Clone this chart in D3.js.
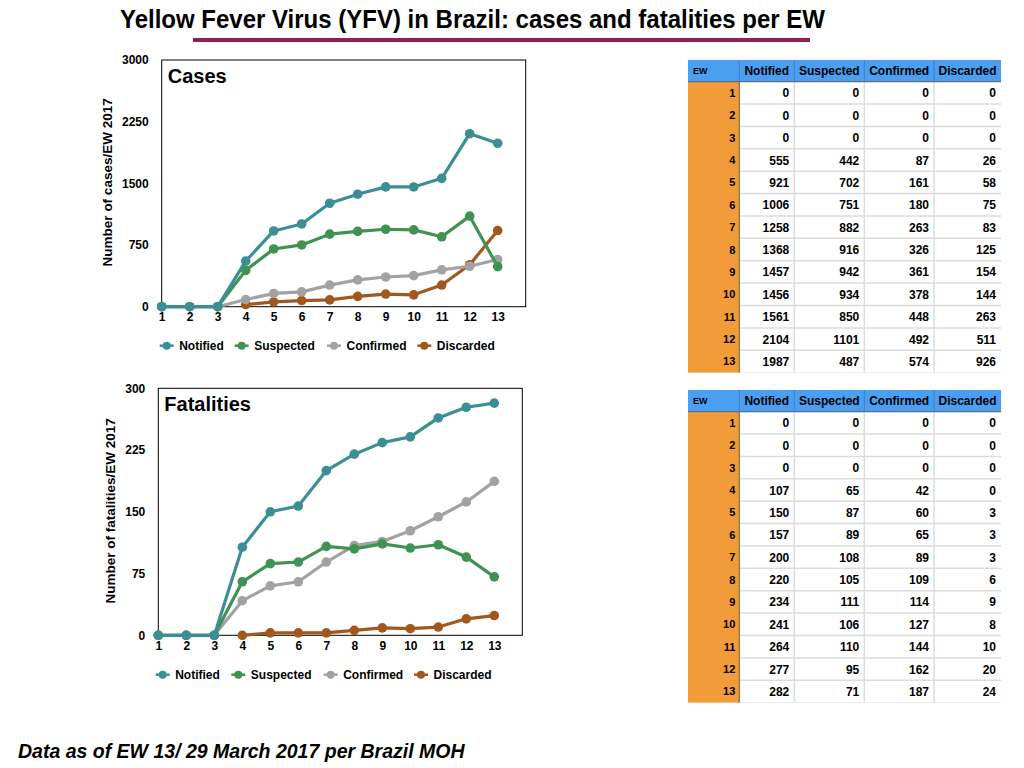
<!DOCTYPE html>
<html>
<head>
<meta charset="utf-8">
<script src="https://cdn.jsdelivr.net/npm/d3@7"></script>
<style>
  body { margin: 0; background: #fff; }
  svg { display: block; font-family: "Liberation Sans", Arial, sans-serif; }
  .tick text { font-weight: bold; font-size: 12px; fill: #000; }
</style>
</head>
<body>
<svg id="screen" width="1024" height="768"></svg>
<script>
'use strict';

const weeks = [1, 2, 3, 4, 5, 6, 7, 8, 9, 10, 11, 12, 13];
const seriesNames = ['Notified', 'Suspected', 'Confirmed', 'Discarded'];
const seriesColors = ['#3b8f94', '#3f9251', '#a2a2a2', '#a0581f'];

const casesNotified = [0, 0, 0, 555, 921, 1006, 1258, 1368, 1457, 1456, 1561, 2104, 1987];
const casesSuspected = [0, 0, 0, 442, 702, 751, 882, 916, 942, 934, 850, 1101, 487];
const casesConfirmed = [0, 0, 0, 87, 161, 180, 263, 326, 361, 378, 448, 492, 574];
const casesDiscarded = [0, 0, 0, 26, 58, 75, 83, 125, 154, 144, 263, 511, 926];

const deathsNotified = [0, 0, 0, 107, 150, 157, 200, 220, 234, 241, 264, 277, 282];
const deathsSuspected = [0, 0, 0, 65, 87, 89, 108, 105, 111, 106, 110, 95, 71];
const deathsConfirmed = [0, 0, 0, 42, 60, 65, 89, 109, 114, 127, 144, 162, 187];
const deathsDiscarded = [0, 0, 0, 0, 3, 3, 3, 6, 9, 8, 10, 20, 24];

// discarded counts are only plotted from EW 4 on
const firstWeek = [1, 1, 1, 4];

const casesTicks = [0, 750, 1500, 2250, 3000];
const deathsTicks = [0, 75, 150, 225, 300];

const svg = d3.select('#screen');

// title
svg.append('text')
  .attr('x', 120).attr('y', 28)
  .attr('textLength', 705).attr('lengthAdjust', 'spacingAndGlyphs')
  .style('font-weight', 'bold').style('font-size', '25px')
  .text('Yellow Fever Virus (YFV) in Brazil: cases and fatalities per EW');
svg.append('rect')
  .attr('x', 193).attr('y', 38).attr('width', 617).attr('height', 4)
  .attr('fill', '#8b2452');

function drawChart(opt) {
  const x = d3.scaleLinear().domain([1, 14]).range([opt.left, opt.right]),
        y = d3.scaleLinear().domain([0, opt.max]).range([opt.bottom, opt.top]);
  const g = svg.append('g');

  g.append('rect')
    .attr('x', opt.left).attr('y', opt.top)
    .attr('width', opt.right - opt.left).attr('height', opt.bottom - opt.top)
    .attr('fill', 'none').attr('stroke', '#000').attr('stroke-width', 1);

  g.append('g')
    .attr('transform', `translate(${opt.left},0)`)
    .call(d3.axisLeft(y).tickValues(opt.ticks).tickFormat(d3.format('d')).tickSize(0).tickPadding(13))
    .call(a => a.select('.domain').remove());

  g.append('g')
    .attr('transform', `translate(0,${opt.bottom})`)
    .call(d3.axisBottom(x).tickValues(weeks).tickFormat(d3.format('d')).tickSize(0).tickPadding(6))
    .call(a => a.select('.domain').remove());

  g.append('text')
    .attr('transform', `translate(${opt.labelX},${(opt.top + opt.bottom) / 2 - 1}) rotate(-90)`)
    .attr('text-anchor', 'middle')
    .style('font-weight', 'bold').style('font-size', '13.5px')
    .text(opt.label);

  g.append('text')
    .attr('x', opt.left + 6).attr('y', opt.top + 23)
    .style('font-weight', 'bold').style('font-size', '20px')
    .text(opt.title);

  const line = d3.line().x(d => x(d.w)).y(d => y(d.v));
  // draw so that Notified ends up on top
  for (let s = opt.series.length - 1; s >= 0; --s) {
    const pts = weeks.map((w, i) => ({w: w, v: opt.series[s][i]}))
      .filter(d => d.w >= firstWeek[s]);
    const sg = g.append('g');
    sg.append('path')
      .datum(pts)
      .attr('d', line)
      .attr('fill', 'none')
      .attr('stroke', seriesColors[s])
      .attr('stroke-width', 3.2)
      .attr('stroke-linejoin', 'round');
    sg.selectAll('circle')
      .data(pts)
      .join('circle')
      .attr('cx', d => x(d.w))
      .attr('cy', d => y(d.v))
      .attr('r', 4.8)
      .attr('fill', seriesColors[s]);
  }

  const lg = g.append('g').attr('transform', `translate(0,${opt.legendY})`);
  seriesNames.forEach((name, i) => {
    const mx = opt.legendX[i];
    lg.append('line')
      .attr('x1', mx - 7).attr('x2', mx + 7)
      .attr('stroke', seriesColors[i]).attr('stroke-width', 2.5);
    lg.append('circle').attr('cx', mx).attr('r', 4).attr('fill', seriesColors[i]);
    lg.append('text')
      .attr('x', mx + 12.5).attr('y', 4.5)
      .style('font-weight', 'bold').style('font-size', '12px')
      .text(name);
  });
}

drawChart({
  left: 161.7, right: 525.7, top: 60, bottom: 306.7,
  max: 3000, ticks: casesTicks,
  series: [casesNotified, casesSuspected, casesConfirmed, casesDiscarded],
  label: 'Number of cases/EW 2017', labelX: 112,
  title: 'Cases',
  legendY: 345.7, legendX: [166.7, 241.7, 334, 424.3]
});

drawChart({
  left: 158.3, right: 522.3, top: 388.3, bottom: 635.3,
  max: 300, ticks: deathsTicks,
  series: [deathsNotified, deathsSuspected, deathsConfirmed, deathsDiscarded],
  label: 'Number of fatalities/EW 2017', labelX: 115,
  title: 'Fatalities',
  legendY: 674.7, legendX: [162.7, 238.3, 330.7, 421]
});

// tables
const colEdges = [688, 739.3, 794.3, 864.3, 934, 1001];

function drawTable(top, series) {
  const headerH = 21.7, rowH = 22.38;
  const rows = d3.scaleBand().domain(weeks).range([top + headerH, top + headerH + rowH * weeks.length]);
  const g = svg.append('g');
  const right = colEdges[colEdges.length - 1];

  g.append('rect')
    .attr('x', colEdges[0]).attr('y', top)
    .attr('width', right - colEdges[0]).attr('height', headerH)
    .attr('fill', '#4b9ff2');
  g.append('rect')
    .attr('x', colEdges[0]).attr('y', top + headerH)
    .attr('width', colEdges[1] - colEdges[0]).attr('height', rowH * weeks.length)
    .attr('fill', '#f29c39');

  // body grid
  g.selectAll('line.row')
    .data(weeks.slice(1))
    .join('line')
    .attr('x1', colEdges[1]).attr('x2', right)
    .attr('y1', d => rows(d)).attr('y2', d => rows(d))
    .attr('stroke', '#dcdcdc').attr('stroke-width', 1.5);
  g.append('line')
    .attr('x1', colEdges[1]).attr('x2', right)
    .attr('y1', rows.range()[1]).attr('y2', rows.range()[1])
    .attr('stroke', '#ececec').attr('stroke-width', 1);
  g.selectAll('line.col')
    .data(colEdges.slice(2, -1))
    .join('line')
    .attr('x1', d => d).attr('x2', d => d)
    .attr('y1', top + headerH).attr('y2', rows.range()[1])
    .attr('stroke', '#dcdcdc').attr('stroke-width', 1.5);
  g.selectAll('line.hcol')
    .data(colEdges.slice(1, -1))
    .join('line')
    .attr('x1', d => d).attr('x2', d => d)
    .attr('y1', top).attr('y2', top + headerH)
    .attr('stroke', '#3a7fc4').attr('stroke-width', 1);
  g.append('line')
    .attr('x1', colEdges[1]).attr('x2', colEdges[1])
    .attr('y1', top + headerH).attr('y2', rows.range()[1])
    .attr('stroke', '#8a6a40').attr('stroke-width', 1.2);
  g.append('line')
    .attr('x1', colEdges[0]).attr('x2', right)
    .attr('y1', top + headerH).attr('y2', top + headerH)
    .attr('stroke', '#5a6f86').attr('stroke-width', 1.2);

  // header
  g.append('text')
    .attr('x', colEdges[0] + 5).attr('y', top + headerH / 2 + 3.5)
    .style('font-weight', 'bold').style('font-size', '9px')
    .text('EW');
  seriesNames.forEach((name, i) => {
    g.append('text')
      .attr('x', (colEdges[i + 1] + colEdges[i + 2]) / 2)
      .attr('y', top + headerH / 2 + 4.5)
      .attr('text-anchor', 'middle')
      .style('font-weight', 'bold').style('font-size', '12px')
      .text(name);
  });

  // body
  g.selectAll('text.ew')
    .data(weeks)
    .join('text')
    .attr('x', colEdges[1] - 4)
    .attr('y', d => rows(d) + rowH / 2 + 4)
    .attr('text-anchor', 'end')
    .style('font-weight', 'bold').style('font-size', '11px')
    .text(d => d);
  series.forEach((vals, i) => {
    g.selectAll(null)
      .data(vals)
      .join('text')
      .attr('x', colEdges[i + 2] - 5)
      .attr('y', (d, j) => rows(weeks[j]) + rowH / 2 + 4.5)
      .attr('text-anchor', 'end')
      .style('font-weight', 'bold').style('font-size', '12px')
      .text(d => d);
  });
}

drawTable(60, [casesNotified, casesSuspected, casesConfirmed, casesDiscarded]);
drawTable(390, [deathsNotified, deathsSuspected, deathsConfirmed, deathsDiscarded]);

svg.append('text')
  .attr('x', 18).attr('y', 758)
  .style('font-weight', 'bold').style('font-style', 'italic').style('font-size', '19.5px')
  .text('Data as of EW 13/ 29 March 2017 per Brazil MOH');
</script>
</body>
</html>
